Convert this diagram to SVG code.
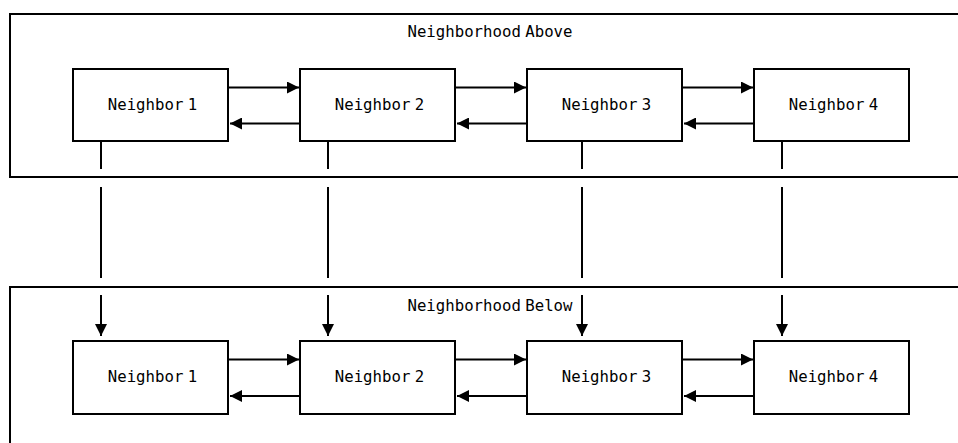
<svg xmlns="http://www.w3.org/2000/svg" width="958" height="443" viewBox="0 0 958 443">
<style>
.box{fill:#fff;stroke:#000;stroke-width:2}
.cont{fill:none;stroke:#000;stroke-width:2}
.lbl{font-family:"DejaVu Sans Mono",monospace;font-size:15.7px;fill:#000;text-anchor:middle;word-spacing:-5px}
.ln{stroke:#000;stroke-width:2;fill:none}
</style>
<defs>
<marker id="ah" markerUnits="userSpaceOnUse" markerWidth="13" markerHeight="12" refX="12" refY="6" orient="auto">
<path d="M0,0 L12,6 L0,12 Z" fill="#000"/>
</marker>
</defs>
<g id="neighborhood-above">
<rect class="cont" x="10" y="14" width="960" height="163"/>
<text class="lbl" x="490" y="37">Neighborhood Above</text>
</g>
<g id="neighborhood-below">
<rect class="cont" x="10" y="287" width="960" height="170"/>
<text class="lbl" x="490" y="311">Neighborhood Below</text>
</g>
<g id="a1"><rect class="box" x="73" y="69" width="155" height="72"/><text class="lbl" x="152.5" y="110">Neighbor 1</text></g>
<g id="a2"><rect class="box" x="300" y="69" width="155" height="72"/><text class="lbl" x="379.5" y="110">Neighbor 2</text></g>
<g id="a3"><rect class="box" x="527" y="69" width="155" height="72"/><text class="lbl" x="606.5" y="110">Neighbor 3</text></g>
<g id="a4"><rect class="box" x="754" y="69" width="155" height="72"/><text class="lbl" x="833.5" y="110">Neighbor 4</text></g>
<g id="b1"><rect class="box" x="73" y="341" width="155" height="73"/><text class="lbl" x="152.5" y="382">Neighbor 1</text></g>
<g id="b2"><rect class="box" x="300" y="341" width="155" height="73"/><text class="lbl" x="379.5" y="382">Neighbor 2</text></g>
<g id="b3"><rect class="box" x="527" y="341" width="155" height="73"/><text class="lbl" x="606.5" y="382">Neighbor 3</text></g>
<g id="b4"><rect class="box" x="754" y="341" width="155" height="73"/><text class="lbl" x="833.5" y="382">Neighbor 4</text></g>
<g id="connectors">
<path class="ln" d="M228,87.5 H299" marker-end="url(#ah)"/>
<path class="ln" d="M300,123.5 H230" marker-end="url(#ah)"/>
<path class="ln" d="M455,87.5 H526" marker-end="url(#ah)"/>
<path class="ln" d="M527,123.5 H457" marker-end="url(#ah)"/>
<path class="ln" d="M682,87.5 H753" marker-end="url(#ah)"/>
<path class="ln" d="M754,123.5 H684" marker-end="url(#ah)"/>
<path class="ln" d="M228,359.5 H299" marker-end="url(#ah)"/>
<path class="ln" d="M300,396 H230" marker-end="url(#ah)"/>
<path class="ln" d="M455,359.5 H526" marker-end="url(#ah)"/>
<path class="ln" d="M527,396 H457" marker-end="url(#ah)"/>
<path class="ln" d="M682,359.5 H753" marker-end="url(#ah)"/>
<path class="ln" d="M754,396 H684" marker-end="url(#ah)"/>
<path class="ln" d="M101,141 V169 M101,187 V278 M328,141 V169 M328,187 V278 M582,141 V169 M582,187 V278 M782,141 V169 M782,187 V278"/>
<path class="ln" d="M101,295 V336" marker-end="url(#ah)"/>
<path class="ln" d="M328,295 V336" marker-end="url(#ah)"/>
<path class="ln" d="M582,295 V336" marker-end="url(#ah)"/>
<path class="ln" d="M782,295 V336" marker-end="url(#ah)"/>
</g>
</svg>
